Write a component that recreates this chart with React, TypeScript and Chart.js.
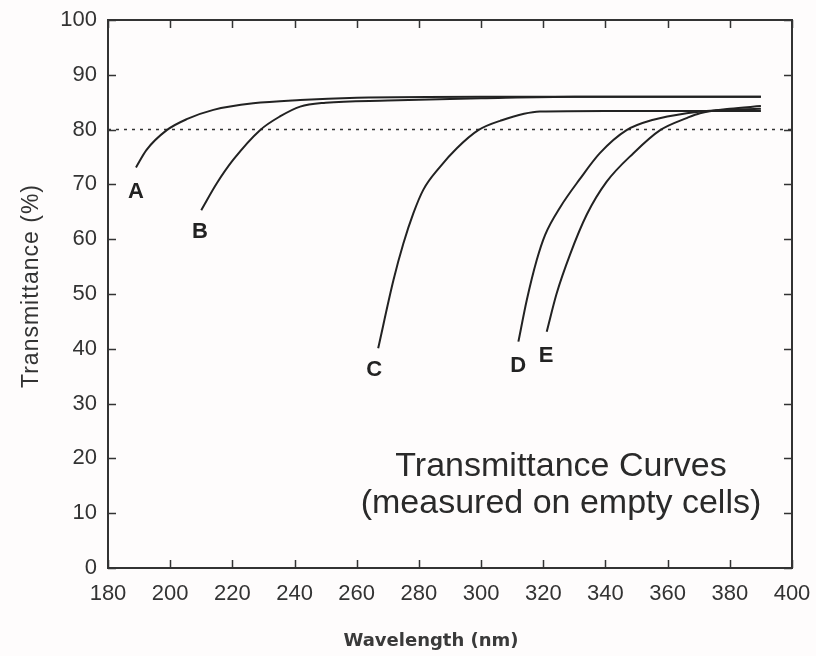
import React, { useEffect, useRef } from "react";
import { Chart, registerables } from "chart.js";

Chart.register(...registerables);

// Wavelength (nm) / Transmittance (%) readings for each curve
const waveA = [189, 192.4, 198.9, 205.3, 213.9, 226.7, 241.8, 260, 300, 390];
const transA = [73.1, 76.3, 79.9, 81.9, 83.6, 84.8, 85.4, 85.8, 86.0, 86.0];

const waveB = [210, 215, 220.3, 228.9, 235.3, 241.8, 250, 270, 300, 330, 390];
const transB = [65.3, 70.2, 74.5, 79.9, 82.4, 84.2, 84.9, 85.3, 85.7, 86.0, 86.0];

const waveC = [266.9, 271.8, 275, 278.2, 281.4, 286.8, 292.2, 299.1, 306.1, 318.9, 340, 390];
const transC = [40.1, 52.5, 59.2, 64.7, 69.0, 73.2, 76.6, 79.9, 81.6, 83.3, 83.4, 83.4];

const waveD = [312, 314.7, 317.9, 320.6, 325.4, 331.8, 338.2, 346.8, 355.4, 366.1, 375, 390];
const transD = [41.3, 48.9, 56.2, 60.8, 65.8, 71.0, 75.7, 79.9, 81.8, 83.0, 83.5, 83.8];

const waveE = [321.1, 324.3, 328.6, 334, 340.4, 349, 357.6, 366.1, 370.4, 380, 390];
const transE = [43.1, 50.1, 57.2, 64.5, 70.5, 75.7, 79.9, 82.1, 83.0, 83.8, 84.3];

const curveNames = ["A", "B", "C", "D", "E"];
// where each curve's letter sits (wavelength, transmittance)
const labelWave = [189.0, 209.6, 265.6, 311.9, 320.9];
const labelTrans = [68.6, 61.3, 36.1, 36.9, 38.7];

const thresholdWave = [180, 400];
const thresholdTrans = [80, 80];

const xTicks = [180, 200, 220, 240, 260, 280, 300, 320, 340, 360, 380, 400];
const yTicks = [0, 10, 20, 30, 40, 50, 60, 70, 80, 90, 100];

const noteLines = ["Transmittance Curves", "(measured on empty cells)"];
const noteWave = 325.7;
const noteTrans = [16.8, 10.0];

const xTitle = "Wavelength (nm)";
const yTitle = "Transmittance (%)";

const zip = (xs: number[], ys: number[]) => xs.map((x, i) => ({ x, y: ys[i] }));

export default function App() {
  const ref = useRef<HTMLCanvasElement>(null);

  useEffect(() => {
    if (!ref.current) return;
    const curves = [
      [waveA, transA],
      [waveB, transB],
      [waveC, transC],
      [waveD, transD],
      [waveE, transE],
    ];

    const decor = {
      id: "decor",
      afterDraw(chart: any) {
        const ctx = chart.ctx;
        const { left, right, top, bottom } = chart.chartArea;
        const xs = chart.scales.x;
        const ys = chart.scales.y;
        ctx.save();
        // frame
        ctx.strokeStyle = "#333";
        ctx.lineWidth = 2;
        ctx.strokeRect(left, top, right - left, bottom - top);
        // inward ticks
        ctx.lineWidth = 1.5;
        const tl = 8;
        xTicks.forEach((v) => {
          const px = Math.round(xs.getPixelForValue(v)) + 0.5;
          ctx.beginPath();
          ctx.moveTo(px, bottom);
          ctx.lineTo(px, bottom - tl);
          ctx.moveTo(px, top);
          ctx.lineTo(px, top + tl);
          ctx.stroke();
        });
        yTicks.forEach((v) => {
          const py = Math.round(ys.getPixelForValue(v)) + 0.5;
          ctx.beginPath();
          ctx.moveTo(left, py);
          ctx.lineTo(left + tl, py);
          ctx.moveTo(right, py);
          ctx.lineTo(right - tl, py);
          ctx.stroke();
        });
        // curve letters
        ctx.fillStyle = "#222";
        ctx.font = "bold 22px 'Liberation Sans', Arial, sans-serif";
        ctx.textAlign = "center";
        ctx.textBaseline = "middle";
        curveNames.forEach((n, i) => {
          ctx.fillText(n, xs.getPixelForValue(labelWave[i]), ys.getPixelForValue(labelTrans[i]));
        });
        // note
        ctx.font = "34px 'Liberation Sans', Arial, sans-serif";
        ctx.textBaseline = "alphabetic";
        ctx.fillStyle = "#2a2a2a";
        noteLines.forEach((t, i) => {
          ctx.fillText(t, xs.getPixelForValue(noteWave), ys.getPixelForValue(noteTrans[i]));
        });
        // axis titles
        ctx.font = "bold 18px 'DejaVu Sans', sans-serif";
        ctx.fillStyle = "#3a3a3a";
        ctx.textBaseline = "middle";
        ctx.fillText(xTitle, 431, 641);
        ctx.translate(32, 286);
        ctx.rotate(-Math.PI / 2);
        ctx.fillStyle = "#333";
        ctx.font = "23px 'Liberation Sans', Arial, sans-serif";
        (ctx as any).letterSpacing = "1px";
        ctx.fillText(yTitle, 0, 0);
        ctx.restore();
      },
    };

    const chart = new Chart(ref.current, {
      type: "line",
      data: {
        datasets: [
          ...curves.map(([w, t], i) => ({
            label: curveNames[i],
            data: zip(w, t),
            borderColor: "#222",
            borderWidth: 2,
            pointRadius: 0,
            fill: false,
            cubicInterpolationMode: "monotone" as const,
          })),
          {
            label: "80%",
            data: zip(thresholdWave, thresholdTrans),
            borderColor: "#333",
            borderWidth: 1.5,
            borderDash: [3, 5],
            pointRadius: 0,
            fill: false,
          },
        ],
      },
      options: {
        responsive: false,
        animation: false,
        events: [],
        layout: { padding: { top: 20, right: 24, left: 0, bottom: 0 } },
        plugins: { legend: { display: false }, tooltip: { enabled: false }, title: { display: false } },
        scales: {
          x: {
            type: "linear",
            min: 180,
            max: 400,
            afterFit: (s: any) => {
              s.height = 88;
            },
            afterBuildTicks: (s: any) => {
              s.ticks = xTicks.map((v) => ({ value: v }));
            },
            ticks: {
              font: { family: "'Liberation Sans', Arial, sans-serif", size: 22 },
              color: "#333",
              padding: 5,
              maxRotation: 0,
              autoSkip: false,
            },
            grid: { display: false },
            border: { display: false },
          },
          y: {
            type: "linear",
            min: 0,
            max: 100,
            afterFit: (s: any) => {
              s.width = 108;
            },
            afterBuildTicks: (s: any) => {
              s.ticks = yTicks.map((v) => ({ value: v }));
            },
            ticks: {
              font: { family: "'Liberation Sans', Arial, sans-serif", size: 22 },
              color: "#333",
              padding: 3,
              autoSkip: false,
            },
            grid: { display: false },
            border: { display: false },
          },
        },
      },
      plugins: [decor],
    });
    return () => chart.destroy();
  }, []);

  return (
    <div style={{ position: "fixed", left: 0, top: 0, width: 816, height: 656, background: "#fefcfc" }}>
      <canvas ref={ref} width={816} height={656} style={{ display: "block" }} />
    </div>
  );
}
